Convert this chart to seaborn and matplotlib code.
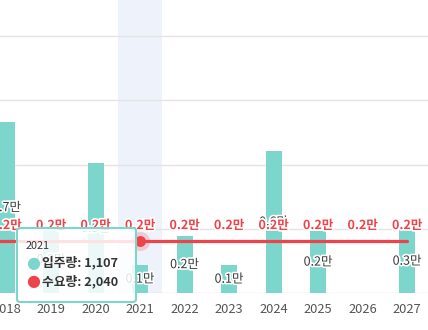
import numpy as np
import pandas as pd
import matplotlib
matplotlib.use("Agg")
import matplotlib.pyplot as plt
import matplotlib.patheffects as pe
from matplotlib.patches import FancyBboxPatch
import seaborn as sns

# ---- data ----
years = ["2017", "2018", "2019", "2020", "2021", "2022", "2023", "2024", "2025", "2026", "2027"]
supply = [np.nan, 6660, 2600, 5050, 1107, 2230, 1100, 5530, 2430, 0, 2500]   # 입주량
demand = [2040, 2040, 2040, 2040, 2040, 2040, 2040, 2040, 2040, 2040, 2040]  # 수요량
highlight_year = "2021"
tooltip_title = "2021"
tooltip_rows = [("입주량", 1107), ("수요량", 2040)]

TEAL = "#7dd6cc"
RED = "#ef434b"

sns.set_theme(style="white")
plt.rcParams["font.family"] = ["Noto Sans CJK KR", "DejaVu Sans"]

fig = plt.figure(figsize=(4.28, 3.30), dpi=100)
ax = fig.add_axes([0, 0.111, 1, 0.889])

df = pd.DataFrame({"year": years, "supply": supply, "demand": demand})
pos = np.arange(len(years))

# highlight band
hi = years.index(highlight_year)
ax.axvspan(hi - 0.5, hi + 0.5, color="#eef2fb", zorder=0, lw=0)

# grid
for g in [2500, 5000, 7500, 10000]:
    ax.axhline(g, color="#e4e4e4", lw=1.0, zorder=0.5)
ax.axhline(0, color="#dcdcdc", lw=1.0, zorder=0.5)

sns.barplot(data=df, x="year", y="supply", order=years, color=TEAL,
            width=0.36, saturation=1, ax=ax, zorder=2, linewidth=0)

sns.lineplot(x=pos, y=df["demand"], color=RED, lw=2.3, ax=ax, zorder=3)

# highlighted point
ax.scatter([hi], [demand[hi]], s=190, color=RED, alpha=0.22, lw=0, zorder=4)
ax.scatter([hi], [demand[hi]], s=62, color=RED, lw=0, zorder=5)

stroke = [pe.withStroke(linewidth=2.4, foreground="white")]


def man(v):
    return f"{np.floor(v / 1000 + 0.5) / 10:.1f}만"


for i, v in enumerate(supply):
    if np.isnan(v) or v <= 0:
        continue
    ax.text(i, v / 2, man(v), ha="center", va="center", fontsize=9,
            color="#3a3a3a", fontweight="normal", zorder=6, path_effects=stroke)

for i, v in enumerate(demand):
    ax.annotate(man(v), (i, v), xytext=(0, 11), textcoords="offset points",
                ha="center", va="center", fontsize=9, color=RED,
                fontweight="bold", zorder=7, path_effects=stroke)

ax.set_xticks(pos)
ax.set_xticklabels(years)
ax.set_xlim(0.854, 10.47)
ax.set_ylim(0, 11400)
ax.set_xlabel("")
ax.set_ylabel("")
ax.set_yticks([])
ax.tick_params(axis="x", length=0, pad=7, labelsize=9.3, labelcolor="#555555")
for s in ax.spines.values():
    s.set_visible(False)

# tooltip overlay
W, H = 428, 330
def fx(px):
    return px / W
def fy(py):
    return (H - py) / H

box = FancyBboxPatch((fx(17), fy(302)), fx(136) - fx(17), fy(228) - fy(302),
                     boxstyle="round,pad=0,rounding_size=0.008",
                     transform=fig.transFigure, facecolor=(1, 1, 1, 0.85),
                     edgecolor=TEAL, lw=1.5, zorder=20)
fig.patches.append(box)
fig.text(fx(26), fy(246), tooltip_title, fontsize=7.8, color="#333333",
         ha="left", va="center", zorder=21)
for (name, val), col, py in zip(tooltip_rows, [TEAL, RED], [263, 282]):
    fig.text(fx(33), fy(py), "●", fontsize=11.5, color=col, ha="center",
             va="center", zorder=21, family="DejaVu Sans")
    fig.text(fx(42), fy(py), f"{name}: {val:,}", fontsize=9.2, color="#333333",
             ha="left", va="center", fontweight="bold", zorder=21)

fig.savefig("out.png", dpi=100)
